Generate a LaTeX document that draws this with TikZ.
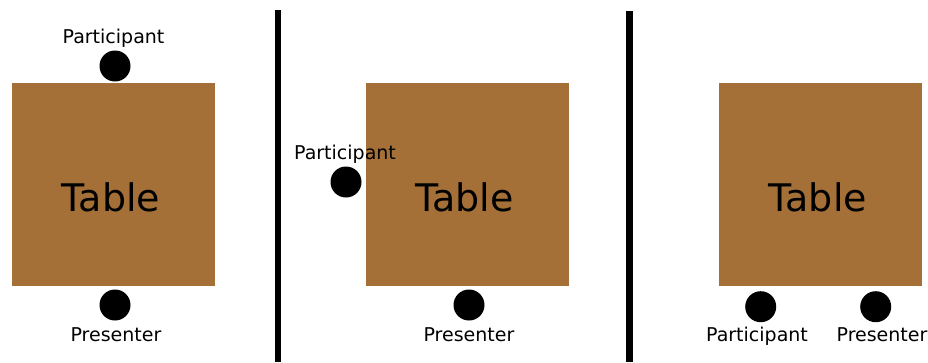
\documentclass[tikz,border=0pt]{standalone}
\usepackage{fontspec}
\setmainfont{DejaVu Sans}
\definecolor{tablebrown}{RGB}{164,112,56}

\begin{document}
\begin{tikzpicture}[x=1pt, y=-1pt,
  tablebox/.style={rectangle, fill=tablebrown, minimum width=203pt, minimum height=203pt, inner sep=0pt},
  tabletext/.style={anchor=base, inner sep=0pt, font=\fontsize{38}{42}\selectfont},
  person/.style={circle, fill=black, minimum size=31pt, inner sep=0pt},
  personlabel/.style={anchor=base, inner sep=0pt, font=\fontsize{19}{22}\selectfont},
  divider/.style={line width=6.5pt}]
\useasboundingbox (0,0) rectangle (928,362);

\node[tablebox] (table1) at (113.5, 184.5) {};
\node[tablebox] (table2) at (467, 184.5) {};
\node[tablebox] (table3) at (820.3, 184.5) {};

\node[tabletext] (tabletext1) at (111, 211.7) {Table};
\node[tabletext] (tabletext2) at (464.5, 211.7) {Table};
\node[tabletext] (tabletext3) at (817.8, 211.7) {Table};

\node[person] (part1) at (115, 66) {};
\node[person] (pres1) at (115, 305) {};
\node[person] (part2) at (346, 182) {};
\node[person] (pres2) at (469, 305) {};
\node[person] (part3) at (760.7, 306.7) {};
\node[person] (pres3) at (875.7, 306.7) {};

\node[personlabel] (partlabel1) at (113.5, 43) {Participant};
\node[personlabel] (preslabel1) at (116, 341.7) {Presenter};
\node[personlabel] (partlabel2) at (345, 159.3) {Participant};
\node[personlabel] (preslabel2) at (469, 341.7) {Presenter};
\node[personlabel] (partlabel3) at (757, 341.7) {Participant};
\node[personlabel] (preslabel3) at (882, 341.7) {Presenter};

\draw[divider] (278, 10) -- (278, 362);
\draw[divider] (629.5, 11) -- (629.5, 362);

\end{tikzpicture}
\end{document}
